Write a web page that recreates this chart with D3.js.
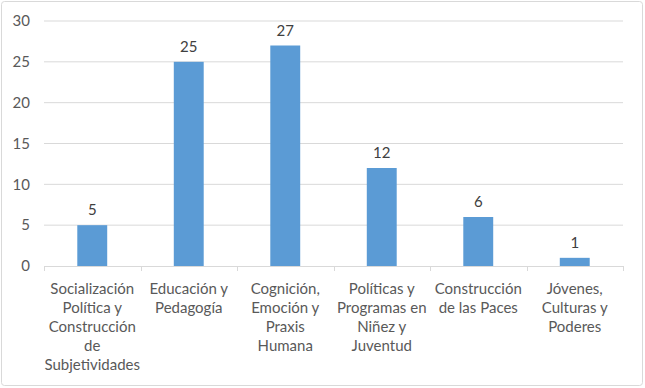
<!DOCTYPE html>
<html>
<head>
<meta charset="utf-8">
<script src="https://cdn.jsdelivr.net/npm/d3@7"></script>
<style>
  body { margin: 0; background: #fff; }
  text { font-family: Lato, "Open Sans", sans-serif; }
</style>
</head>
<body>
<svg id="chart" width="645" height="388"></svg>
<script>
var categories = [
  ['Socialización', 'Política y', 'Construcción', 'de', 'Subjetividades'],
  ['Educación y', 'Pedagogía'],
  ['Cognición,', 'Emoción y', 'Praxis', 'Humana'],
  ['Políticas y', 'Programas en', 'Niñez y', 'Juventud'],
  ['Construcción', 'de las Paces'],
  ['Jóvenes,', 'Culturas y', 'Poderes']
];
var values = [5, 25, 27, 12, 6, 1];
var yTicks = [0, 5, 10, 15, 20, 25, 30];

var svg = d3.select('#chart');
var margin = {left: 44, right: 22, top: 21, bottom: 122};
var width = 645 - margin.left - margin.right;
var height = 388 - margin.top - margin.bottom;

svg.append('rect')
    .attr('x', 1.5).attr('y', 1.5)
    .attr('width', 641).attr('height', 384)
    .attr('rx', 3)
    .style('fill', '#fff')
    .style('stroke', '#d9d9d9');

var g = svg.append('g').attr('transform', 'translate(' + margin.left + ',' + margin.top + ')');

var x = d3.scaleBand()
    .domain(d3.range(values.length))
    .range([0, width])
    .paddingInner(0.69)
    .paddingOuter(0.345);
var xb = d3.scaleBand().domain(d3.range(values.length)).range([0, width]);
var y = d3.scaleLinear().domain([0, 30]).range([height, 0]);

// gridlines
g.selectAll('.grid')
    .data(yTicks.slice(1))
    .enter().append('line')
    .attr('class', 'grid')
    .attr('x1', 0).attr('x2', width)
    .attr('y1', function(d) { return y(d); })
    .attr('y2', function(d) { return y(d); })
    .style('stroke', '#d9d9d9');

// y labels
g.selectAll('.ylab')
    .data(yTicks)
    .enter().append('text')
    .attr('class', 'ylab')
    .attr('x', -14)
    .attr('y', function(d) { return y(d); })
    .attr('dy', '0.35em')
    .attr('text-anchor', 'end')
    .style('font-size', '15px')
    .style('fill', '#595959')
    .text(function(d) { return d; });

// bars
g.selectAll('.bar')
    .data(values)
    .enter().append('rect')
    .attr('class', 'bar')
    .attr('x', function(d, i) { return x(i); })
    .attr('width', x.bandwidth())
    .attr('y', function(d) { return y(d); })
    .attr('height', function(d) { return height - y(d); })
    .style('fill', '#5b9bd5');

// value labels
g.selectAll('.vlab')
    .data(values)
    .enter().append('text')
    .attr('class', 'vlab')
    .attr('x', function(d, i) { return x(i) + x.bandwidth() / 2; })
    .attr('y', function(d) { return y(d) - 10; })
    .attr('text-anchor', 'middle')
    .style('font-size', '15px')
    .style('fill', '#404040')
    .text(function(d) { return d; });

// x axis line and ticks
g.append('line')
    .attr('x1', 0).attr('x2', width)
    .attr('y1', height + 0.5).attr('y2', height + 0.5)
    .style('stroke', '#d9d9d9');
g.selectAll('.xtick')
    .data(d3.range(values.length + 1))
    .enter().append('line')
    .attr('class', 'xtick')
    .attr('x1', function(d) { return Math.round(d * xb.step()) + 0.5; })
    .attr('x2', function(d) { return Math.round(d * xb.step()) + 0.5; })
    .attr('y1', height).attr('y2', height + 5)
    .style('stroke', '#d9d9d9');

// category labels
var cl = g.selectAll('.xlab')
    .data(categories)
    .enter().append('text')
    .attr('class', 'xlab')
    .attr('text-anchor', 'middle')
    .style('font-size', '15px')
    .style('fill', '#595959');
cl.selectAll('tspan')
    .data(function(d, i) { return d.map(function(t) { return {t: t, i: i}; }); })
    .enter().append('tspan')
    .attr('x', function(d) { return xb(d.i) + xb.bandwidth() / 2; })
    .attr('y', function(d, j) { return height + 28 + j * 19; })
    .text(function(d) { return d.t; });
</script>
</body>
</html>
